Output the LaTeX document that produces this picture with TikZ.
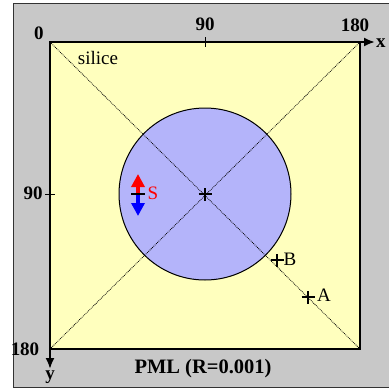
\documentclass[tikz,border=0pt]{standalone}
\usepackage{fontspec}
\setmainfont{Liberation Serif}
\definecolor{pmlgray}{RGB}{200,200,200}
\definecolor{silyellow}{RGB}{255,255,190}
\definecolor{holeblue}{RGB}{180,180,250}
\usetikzlibrary{arrows.meta}

\begin{document}
\begin{tikzpicture}[x=1pt,y=-1pt,
        num/.style={inner sep=0pt,font=\fontsize{19}{19}\selectfont\bfseries},
        lab/.style={inner sep=0pt,font=\fontsize{19}{19}\selectfont},
        cross/.style={line width=2.8pt},
        diag/.style={densely dotted,line width=0.8pt}]
    \useasboundingbox (0,0) rectangle (389,392);

    % PML frame and silica square
    \draw[fill=pmlgray,draw=black!80,line width=1pt] (13,3) rectangle (392,387);
    \coordinate (o)  at (50,42);
    \coordinate (ne) at (360,42);
    \coordinate (sw) at (50,349);
    \coordinate (se) at (360,349);
    \draw[fill=silyellow,line width=1.6pt] (o) rectangle (se);

    % air hole
    \coordinate (c) at (205,194);
    \draw[fill=holeblue,line width=1pt] (c) circle (86);

    \draw[diag] (o) -- (se);
    \draw[diag] (ne) -- (sw);

    % axes
    \coordinate (xend) at (375,42);
    \coordinate (yend) at (50,369);
    \draw[-{Latex[length=11pt,width=9pt]},line width=2pt] (o) -- (xend);
    \draw[-{Latex[length=11pt,width=9pt]},line width=2pt] (o) -- (yend);
    \draw[line width=0.8pt] (205,37) -- (205,47);
    \draw[line width=0.8pt] (45,194) -- (55,194);

    \node[num] (x0)   at (39,33)   {0};
    \node[num] (x90)  at (205,24)  {90};
    \node[num] (x180) at (355,25)  {180};
    \node[num] (y90)  at (33,193)  {90};
    \node[num] (y180) at (25,349)  {180};
    \node[num,anchor=west] (xlab) at (376,43) {x};
    \node[num] (ylab) at (50,377)  {y};
    \node[lab] (sil)  at (98,58)   {silice};
    \node[num,font=\fontsize{20.5}{20.5}\selectfont\bfseries] (pml) at (203,369) {PML (R=0.001)};

    % source
    \coordinate (s)   at (138,194);
    \coordinate (stop) at (138,174);
    \coordinate (sbot) at (138,216);
    \draw[-{Triangle[length=13pt,width=13pt]},red,line width=3.5pt] (s) -- (stop);
    \draw[-{Triangle[length=13pt,width=13pt]},blue,line width=3.5pt] (s) -- (sbot);
    \draw[line width=2.4pt] (131,194) -- (145,194);
    \node[lab,red] (slab) at (153,193) {S};

    % probes
    \coordinate (b) at (277,260);
    \coordinate (a) at (308,297);
    \foreach \p in {c,b,a}{
        \draw[cross] ([xshift=-6.5pt]\p) -- ([xshift=6.5pt]\p);
        \draw[cross] ([yshift=-6.5pt]\p) -- ([yshift=6.5pt]\p);
    }
    \node[lab] (blab) at (290,259) {B};
    \node[lab] (alab) at (324,295) {A};
\end{tikzpicture}
\end{document}
